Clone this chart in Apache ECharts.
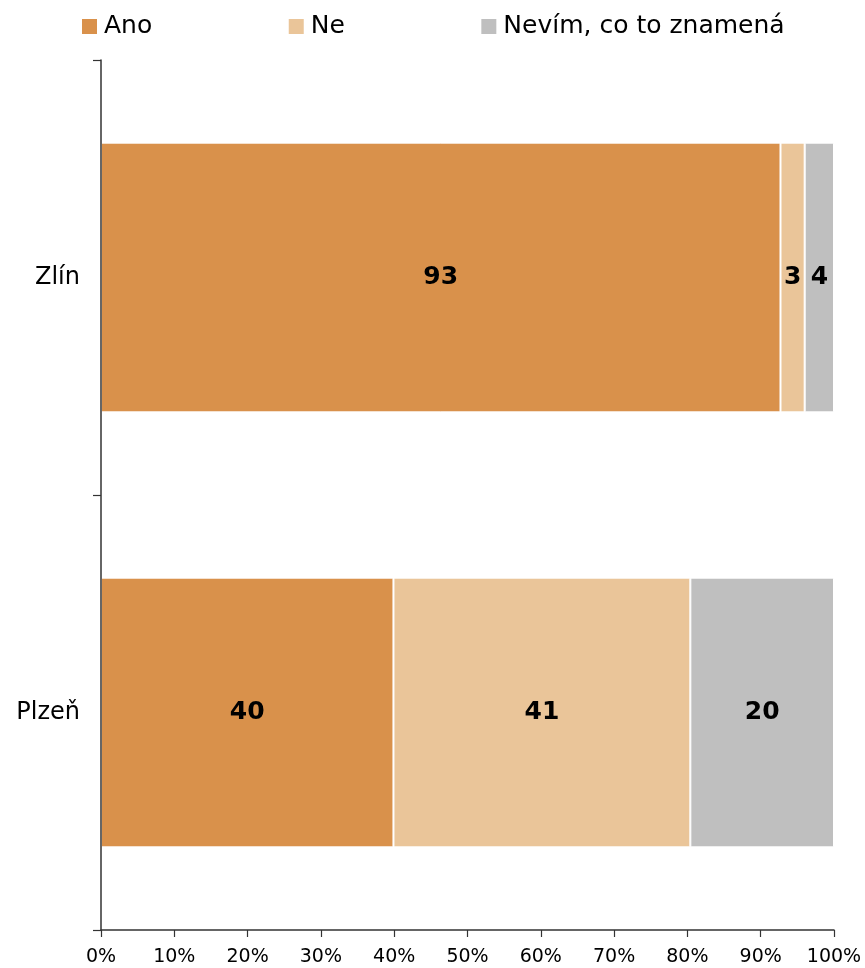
<!DOCTYPE html>
<html>
<head>
<meta charset="utf-8">
<script src="https://cdn.jsdelivr.net/npm/echarts@6/dist/echarts.min.js"></script>
<style>html,body{margin:0;padding:0;background:#fff;}#c{width:865px;height:968px;}</style>
</head>
<body>
<div id="c"></div>
<script>
// Categories (top to bottom)
const categories = ['Zlín', 'Plzeň'];
// Series values (percent shares)
const ano = [92.7, 39.9];
const ne = [3.3, 40.5];
const nevim = [4.0, 19.6];
const seriesNames = ['Ano', 'Ne', 'Nevím, co to znamená'];
const seriesColors = ['#D9914B', '#EAC599', '#BFBFBF'];
const tickLabels = ['0%', '10%', '20%', '30%', '40%', '50%', '60%', '70%', '80%', '90%', '100%'];

const FONT = 'DejaVu Sans';
const chart = echarts.init(document.getElementById('c'), null, {renderer: 'canvas'});

function mk(name, data, color) {
  return {
    name: name,
    type: 'bar',
    stack: 'total',
    data: data,
    barWidth: '62%',
    itemStyle: {color: color, borderColor: '#ffffff', borderWidth: 1},
    label: {
      show: true,
      position: 'inside',
      color: '#000',
      fontFamily: FONT,
      fontWeight: 'bold',
      fontSize: 25,
      formatter: p => Math.round(p.value)
    },
    emphasis: {disabled: true}
  };
}

chart.setOption({
  animation: false,
  textStyle: {fontFamily: FONT},
  legend: {
    data: seriesNames,
    left: 82,
    top: 14,
    padding: 0,
    itemWidth: 15,
    itemHeight: 15,
    itemGap: 136.5,
    icon: 'rect',
    itemStyle: {borderWidth: 0},
    textStyle: {fontFamily: FONT, fontSize: 25, color: '#000', padding: [0, 0, 0, 2]},
    selectedMode: false
  },
  grid: {left: 101, right: 31, top: 60, bottom: 38, containLabel: false},
  xAxis: {
    type: 'value',
    min: 0,
    max: 100,
    interval: 10,
    axisLine: {show: true, lineStyle: {color: '#333', width: 1.5}},
    axisTick: {show: true, length: 7, lineStyle: {color: '#333', width: 1.2}},
    splitLine: {show: false},
    axisLabel: {
      fontFamily: FONT,
      fontSize: 19,
      color: '#000',
      margin: 18,
      formatter: v => tickLabels[Math.round(v / 10)]
    }
  },
  yAxis: {
    type: 'category',
    data: categories,
    inverse: true,
    z: 5,
    axisLine: {show: true, lineStyle: {color: '#333', width: 1.5}},
    axisTick: {show: true, length: 8, lineStyle: {color: '#333', width: 1.2}},
    axisLabel: {fontFamily: FONT, fontSize: 24, color: '#000', margin: 21}
  },
  series: [
    mk(seriesNames[0], ano, seriesColors[0]),
    mk(seriesNames[1], ne, seriesColors[1]),
    mk(seriesNames[2], nevim, seriesColors[2])
  ]
});
</script>
</body>
</html>
